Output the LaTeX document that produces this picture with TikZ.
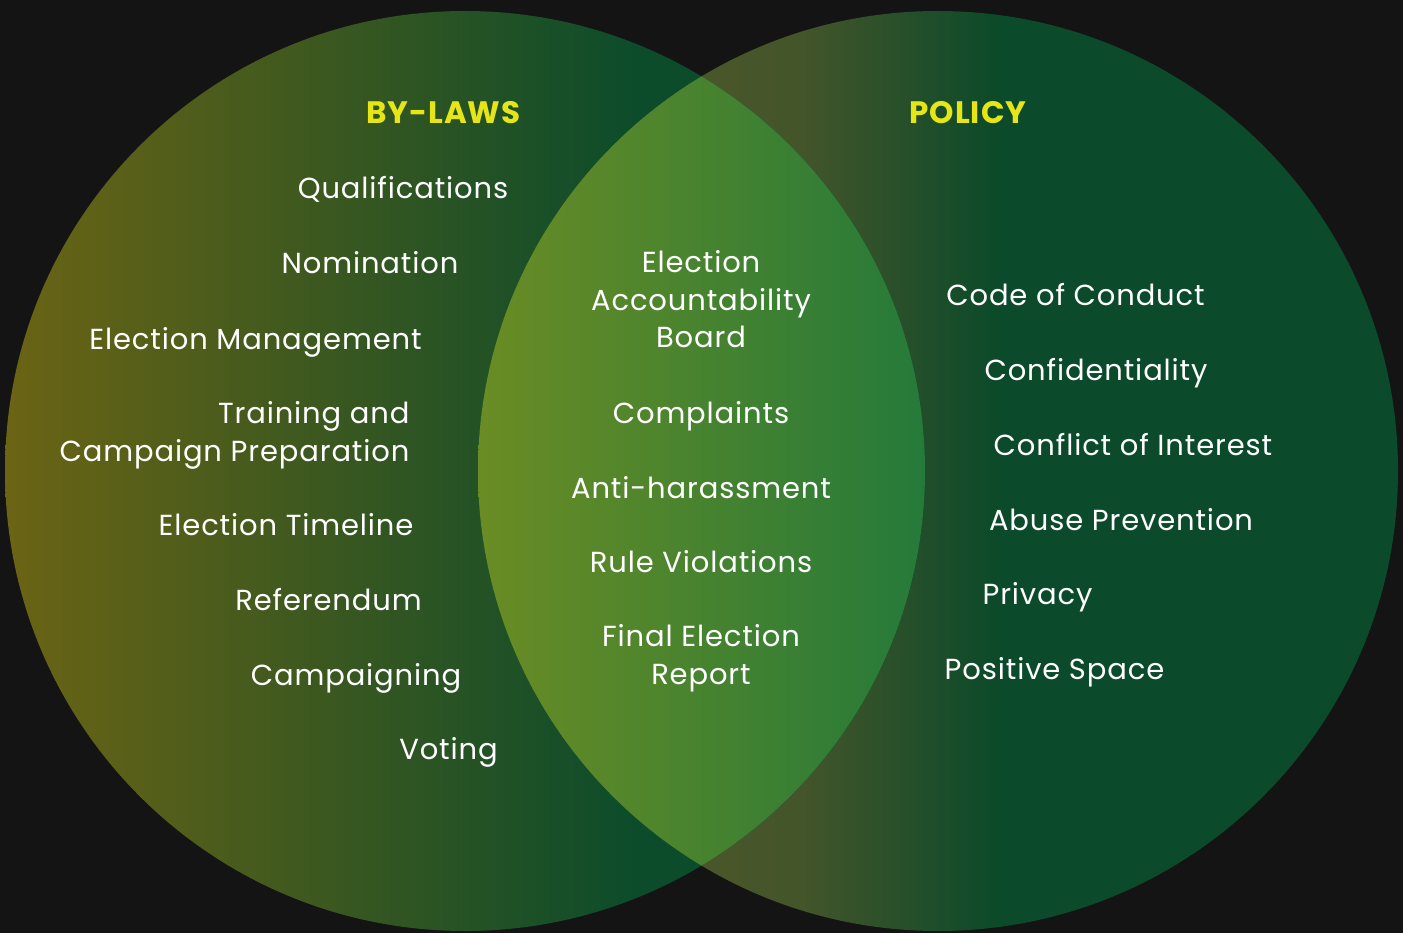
\documentclass[tikz,border=0pt]{standalone}
\usepackage{fontspec}
\setmainfont{Poppins}[LetterSpace=3]
\definecolor{bg}{HTML}{141414}
\definecolor{lolive}{HTML}{6B6414}
\definecolor{lgreen}{HTML}{0C4C2B}
\definecolor{rolive}{HTML}{57582A}
\definecolor{rmid}{HTML}{44552A}
\definecolor{rgreen}{HTML}{0B4A2A}
\definecolor{lensl}{HTML}{6A8C24}
\definecolor{lensr}{HTML}{257A3A}
\definecolor{headyellow}{HTML}{E6E617}
\begin{document}
\begin{tikzpicture}[x=1pt,y=-1pt,
  item/.style={text=white,font=\fontsize{29}{37.5}\selectfont,align=center,anchor=base,inner sep=0pt},
  itemr/.style={item,align=right},
  head/.style={text=headyellow,font=\bfseries\fontsize{31}{36}\selectfont,anchor=base,inner sep=0pt}]
\fill[bg] (0,0) rectangle (1403,933);
\useasboundingbox (0,0) rectangle (1403,933);
\coordinate (L) at (465,471);
\coordinate (R) at (938,471);
% right circle
\begin{scope}
  \clip (R) circle[radius=460pt];
  \shade[left color=rolive,right color=rmid] (478,0) rectangle (800,933);
  \shade[left color=rmid,right color=rgreen] (800,0) rectangle (1000,933);
  \fill[rgreen] (1000,0) rectangle (1403,933);
\end{scope}
% left circle
\begin{scope}
  \clip (L) circle[radius=460pt];
  \shade[left color=lolive,right color=lgreen] (5,0) rectangle (640,933);
  \fill[lgreen] (640,0) rectangle (930,933);
\end{scope}
% lens
\begin{scope}
  \clip (L) circle[radius=460pt];
  \clip (R) circle[radius=460pt];
  \shade[left color=lensl,right color=lensr] (478,0) rectangle (925,933);
\end{scope}
% headings
\node[head] (bylaws) at (443.5,124) {BY-LAWS};
\node[head] (policy) at (968,124) {POLICY};
% by-laws
\node[item] (qual) at (403,199) {Qualifications};
\node[item] (nom) at (370,274) {Nomination};
\node[item] (emgmt) at (255.5,349) {Election Management};
\node[itemr] (train) at (234.5,461) {Training and\\Campaign Preparation};
\node[item] (timeline) at (286,535) {Election Timeline};
\node[item] (ref) at (328.5,610) {Referendum};
\node[item] (camp) at (356,685) {Campaigning};
\node[item] (vote) at (448.5,759) {Voting};
% shared
\node[item] (eab) at (701,348) {Election\\Accountability\\Board};
\node[item] (compl) at (701,423) {Complaints};
\node[item] (anti) at (701,498) {Anti-harassment};
\node[item] (rule) at (701,572) {Rule Violations};
\node[item] (final) at (701,684) {Final Election\\Report};
% policy
\node[item] (code) at (1075.5,306) {Code of Conduct};
\node[item] (conf) at (1096,380) {Confidentiality};
\node[item] (coi) at (1133,455) {Conflict of Interest};
\node[item] (abuse) at (1121,530) {Abuse Prevention};
\node[item] (priv) at (1037.5,604) {Privacy};
\node[item] (pos) at (1054.5,679) {Positive Space};
\end{tikzpicture}
\end{document}
